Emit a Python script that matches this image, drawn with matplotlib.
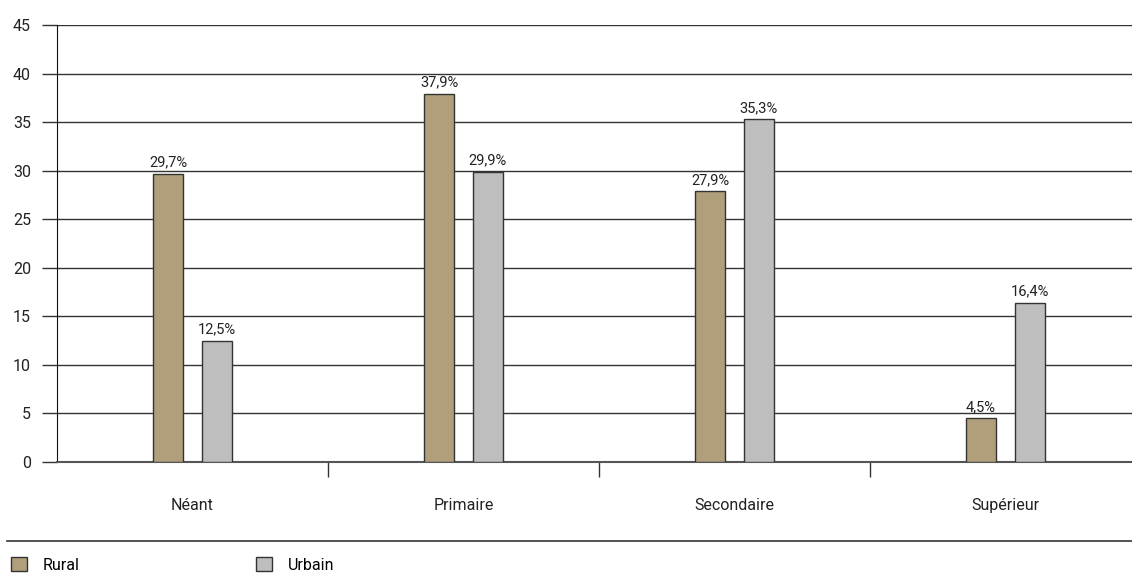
import matplotlib
matplotlib.use("Agg")
import matplotlib.pyplot as plt
import numpy as np
from matplotlib.patches import Patch
from matplotlib.lines import Line2D

categories = ["Néant", "Primaire", "Secondaire", "Supérieur"]
rural = [29.7, 37.9, 27.9, 4.5]
urbain = [12.5, 29.9, 35.3, 16.4]
series_names = ["Rural", "Urbain"]
yticks = [0, 5, 10, 15, 20, 25, 30, 35, 40, 45]

plt.rcParams['font.family'] = ['Roboto', 'DejaVu Sans']

W, H = 1132, 574
fig = plt.figure(figsize=(W / 100, H / 100), dpi=100)
ax = fig.add_axes([57 / W, (H - 462) / H, (W - 57) / W, 437 / H])

c_rural = "#B09F7A"
c_urb = "#BEBEBE"
edge = "#333333"

x = np.arange(len(categories))
bw = 0.11
off = 0.09
b1 = ax.bar(x - off, rural, bw, color=c_rural, edgecolor=edge, linewidth=1, zorder=3)
b2 = ax.bar(x + off, urbain, bw, color=c_urb, edgecolor=edge, linewidth=1, zorder=3)

for bars, vals in ((b1, rural), (b2, urbain)):
    for b, v in zip(bars, vals):
        ax.annotate(f"{v:.1f}%".replace(".", ","), (b.get_x() + b.get_width() / 2, v),
                    xytext=(0, 3), textcoords="offset points", ha="center", va="bottom",
                    fontsize=10.5, color="#222222")

ax.set_ylim(0, 45)
ax.set_xlim(-0.5, -0.5 + (W - 57) / 271)
ax.set_yticks(yticks)
ax.set_yticklabels([str(t) for t in yticks], fontsize=11.5, color="#222222")
ax.tick_params(axis="y", length=10.8, width=1, color="#333333", pad=8)
ax.yaxis.grid(True, color="#333333", linewidth=1, zorder=0)
ax.set_axisbelow(True)

ax.set_xticks([0.5, 1.5, 2.5])
ax.set_xticklabels([])
ax.tick_params(axis="x", which="major", length=10.8, width=1, color="#333333")
ax.set_xticks(x, minor=True)
ax.set_xticklabels(categories, minor=True, fontsize=11.5, color="#222222")
ax.tick_params(axis="x", which="minor", length=0, pad=26)

for s in ["top", "right"]:
    ax.spines[s].set_visible(False)
ax.spines["left"].set_color("#111111")
ax.spines["bottom"].set_color("#555555")
ax.spines["bottom"].set_linewidth(1.5)

fig.add_artist(Line2D([7 / W, 1], [(H - 541) / H] * 2, color="#333333", linewidth=1.2))

handles = [Patch(facecolor=c_rural, edgecolor=edge), Patch(facecolor=c_urb, edgecolor=edge)]
fig.legend(handles, series_names, loc="lower left", bbox_to_anchor=(0.0, -0.017), ncol=2,
           frameon=False, handlelength=1.0, handleheight=1.0, handletextpad=1.0,
           columnspacing=11.0, fontsize=11.5, borderaxespad=0.3)

fig.savefig("out.png", dpi=100)
